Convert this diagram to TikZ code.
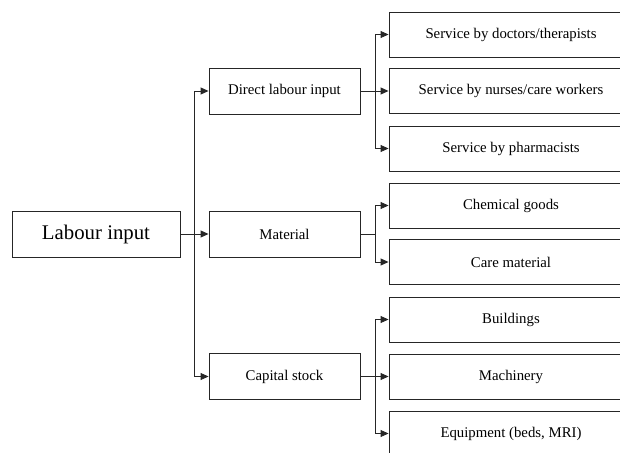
\documentclass[tikz,border=0pt]{standalone}
\usepackage{fontspec}
\setmainfont{Liberation Serif}
\usetikzlibrary{arrows.meta}

\begin{document}
\begin{tikzpicture}[x=1pt,y=-1pt,
    line width=0.9pt, draw=black!85,
    >={Triangle[length=8pt,width=7pt]},
    box/.style={draw=black!85, minimum width=151pt, minimum height=46pt, inner sep=0pt,
      font=\fontsize{14.8}{17}\selectfont},
    item/.style={box, minimum width=244pt, minimum height=45pt}]
    \useasboundingbox (0,0) rectangle (620,452);

    \node[box, minimum width=168pt, font=\fontsize{20.8}{24}\selectfont] (L) at (96,234) {Labour input};

    \node[box] (D) at (284.5,91) {Direct labour input};
    \node[box] (M) at (284.5,234) {Material};
    \node[box] (C) at (284.5,376.5) {Capital stock};

    \node[item] (D1) at (511,34.5) {Service by doctors/therapists};
    \node[item] (D2) at (511,91) {Service by nurses/care workers};
    \node[item] (D3) at (511,148.5) {Service by pharmacists};
    \node[item] (M1) at (511,205.5) {Chemical goods};
    \node[item] (M2) at (511,262) {Care material};
    \node[item] (C1) at (511,319.5) {Buildings};
    \node[item] (C2) at (511,376.5) {Machinery};
    \node[item] (C3) at (511,433.5) {Equipment (beds, MRI)};

    \coordinate (jL) at (194,234);
    \coordinate (jD) at (375,91);
    \coordinate (jM) at (375,234);
    \coordinate (jC) at (375,376.5);

    \draw (L) -- (jL);
    \draw[->] (jL) |- (D);
    \draw[->] (jL) -- (M);
    \draw[->] (jL) |- (C);

    \draw (D) -- (jD);
    \draw[->] (jD) |- (D1);
    \draw[->] (jD) -- (D2);
    \draw[->] (jD) |- (D3);

    \draw (M) -- (jM);
    \draw[->] (jM) |- (M1);
    \draw[->] (jM) |- (M2);

    \draw (C) -- (jC);
    \draw[->] (jC) |- (C1);
    \draw[->] (jC) -- (C2);
    \draw[->] (jC) |- (C3);

\end{tikzpicture}
\end{document}
